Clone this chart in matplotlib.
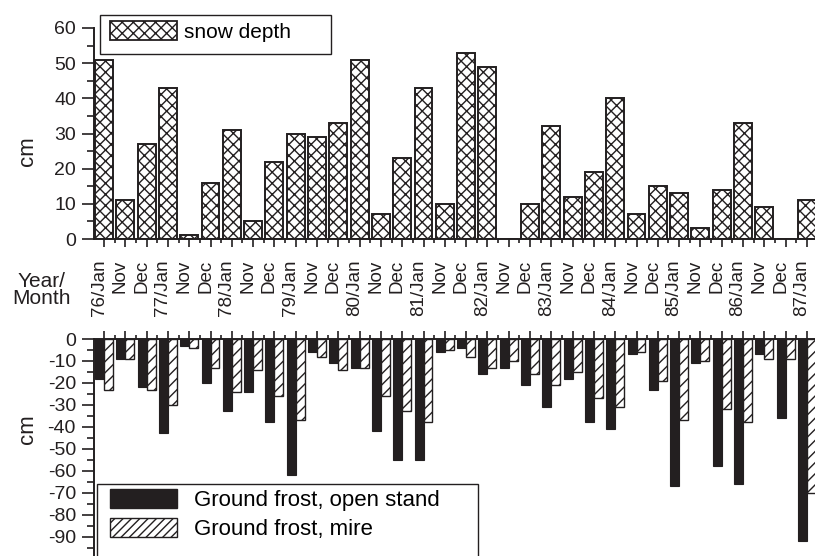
import matplotlib
matplotlib.use("Agg")
import matplotlib.pyplot as plt
import numpy as np
from matplotlib.patches import Patch, Rectangle
from matplotlib.transforms import ScaledTranslation
from matplotlib.ticker import FixedLocator

plt.rcParams['font.family'] = ['Liberation Sans', 'DejaVu Sans']
plt.rcParams['hatch.linewidth'] = 1.0
plt.rcParams['hatch.color'] = '#231f20'

categories = ['76/Jan', 'Nov', 'Dec', '77/Jan', 'Nov', 'Dec', '78/Jan', 'Nov', 'Dec',
              '79/Jan', 'Nov', 'Dec', '80/Jan', 'Nov', 'Dec', '81/Jan', 'Nov', 'Dec',
              '82/Jan', 'Nov', 'Dec', '83/Jan', 'Nov', 'Dec', '84/Jan', 'Nov', 'Dec',
              '85/Jan', 'Nov', 'Dec', '86/Jan', 'Nov', 'Dec', '87/Jan']
snow_depth = [51, 11, 27, 43, 1, 16, 31, 5, 22, 30, 29, 33, 51, 7, 23, 43, 10, 53, 49, 0,
              10, 32, 12, 19, 40, 7, 15, 13, 3, 14, 33, 9, 0, 11]
frost_open = [-18, -9, -22, -43, -3, -20, -33, -24, -38, -62, -6, -11, -13, -42, -55, -55,
              -6, -4, -16, -13, -21, -31, -18, -38, -41, -7, -23, -67, -11, -58, -66, -7,
              -36, -92]
frost_mire = [-23, -9, -23, -30, -4, -13, -24, -14, -26, -37, -8, -14, -13, -26, -33, -38,
              -5, -8, -13, -10, -16, -21, -15, -27, -31, -6, -19, -37, -10, -32, -38, -9,
              -9, -70]

INK = '#231f20'
W, H = 815, 556
fig = plt.figure(figsize=(W / 100, H / 100), dpi=100)

x = np.arange(len(categories))
xlim = (-0.47, 33.38)

def fx(px):
    return px / W

def fy(py):
    return 1 - py / H

# ---------- top panel ----------
ax1 = fig.add_axes([fx(94), fy(239), 1 - fx(94), (239 - 28) / H])
ax1.bar(x, snow_depth, width=0.84, facecolor='white', edgecolor=INK,
        linewidth=1.4, hatch='xxx')
ax1.set_xlim(*xlim)
ax1.set_ylim(0, 60)
ax1.set_yticks(np.arange(0, 61, 10))
ax1.yaxis.set_minor_locator(FixedLocator(np.arange(5, 60, 10)))
ax1.set_xticks(x)
ax1.set_xticklabels(categories, rotation=90, fontsize=13.5)
ax1.xaxis.set_minor_locator(FixedLocator(x[:-1] + 0.5))
for s in ['top', 'right']:
    ax1.spines[s].set_visible(False)
for s in ['left', 'bottom']:
    ax1.spines[s].set_linewidth(1.4)
    ax1.spines[s].set_color(INK)
ax1.tick_params(axis='y', which='major', length=9, width=1.2, pad=4, labelsize=14, colors=INK)
ax1.tick_params(axis='y', which='minor', length=5, width=1.2, colors=INK)
ax1.tick_params(axis='x', which='major', length=6, width=1.2, pad=9, colors=INK)
ax1.tick_params(axis='x', which='minor', length=3, width=1.2, colors=INK)
off = ScaledTranslation(-5 / 100, 0, fig.dpi_scale_trans)
for lab in ax1.get_xticklabels():
    lab.set_transform(lab.get_transform() + off)

# ---------- bottom panel ----------
ax2 = fig.add_axes([fx(94), 0, 1 - fx(94), (556 - 339) / H])
ax2.patch.set_alpha(0)
bw = 0.42
ax2.bar(x - bw / 2, frost_open, width=bw, facecolor=INK, edgecolor=INK, linewidth=0.8)
ax2.bar(x + bw / 2, frost_mire, width=bw, facecolor='white', edgecolor=INK,
        linewidth=1.0, hatch='///')
ax2.set_xlim(*xlim)
ax2.set_ylim(-98.8, 0)
ax2.set_yticks(np.arange(-90, 1, 10))
ax2.set_yticklabels([str(v) for v in np.arange(-90, 1, 10)])
ax2.yaxis.set_minor_locator(FixedLocator(np.arange(-95, 0, 10)))
ax2.xaxis.tick_top()
ax2.set_xticks(x)
ax2.set_xticklabels([])
ax2.xaxis.set_minor_locator(FixedLocator(x[:-1] + 0.5))
for s in ['bottom', 'right']:
    ax2.spines[s].set_visible(False)
for s in ['left', 'top']:
    ax2.spines[s].set_linewidth(1.4)
    ax2.spines[s].set_color(INK)
ax2.tick_params(axis='y', which='major', length=9, width=1.2, pad=4, labelsize=14, colors=INK)
ax2.tick_params(axis='y', which='minor', length=5, width=1.2, colors=INK)
ax2.tick_params(axis='x', which='major', length=6, width=1.2, colors=INK, top=True, bottom=False)
ax2.tick_params(axis='x', which='minor', length=3, width=1.2, colors=INK, top=True, bottom=False)

# ---------- text ----------
fig.text(fx(27), fy(151), 'cm', rotation=90, ha='center', va='center', fontsize=16, color=INK)
fig.text(fx(28), fy(429), 'cm', rotation=90, ha='center', va='center', fontsize=16, color=INK)
fig.text(fx(41), fy(290), 'Year/\nMonth', ha='center', va='center', fontsize=15,
         linespacing=0.92, color=INK)

# ---------- legends ----------
leg1 = fig.legend([Patch(facecolor='white', edgecolor=INK, hatch='xxx', linewidth=1.3)],
                  ['snow depth'], loc='upper left', bbox_to_anchor=(fx(110), fy(21)),
                  bbox_transform=fig.transFigure, frameon=False, fontsize=15,
                  borderpad=0, borderaxespad=0, handlelength=3.2, handleheight=1.05,
                  handletextpad=0.35)
fig.add_artist(Rectangle((fx(100), fy(54)), (331 - 100) / W, (54 - 15) / H,
                         transform=fig.transFigure, fill=False, edgecolor=INK, linewidth=1.0))

leg2 = fig.legend([Patch(facecolor=INK, edgecolor=INK),
                   Patch(facecolor='white', edgecolor=INK, hatch='////', linewidth=1.0)],
                  ['Ground frost, open stand', 'Ground frost, mire'],
                  loc='upper left', bbox_to_anchor=(fx(110), fy(489)),
                  bbox_transform=fig.transFigure, frameon=False, fontsize=16,
                  borderpad=0, borderaxespad=0, handlelength=3.0, handleheight=0.95,
                  handletextpad=0.8, labelspacing=0.3)
fig.add_artist(Rectangle((fx(97), fy(562)), (478 - 97) / W, (562 - 484) / H,
                         transform=fig.transFigure, fill=True, facecolor='white',
                         edgecolor=INK, linewidth=1.0, zorder=2))
leg2.set_zorder(3)

fig.savefig('out.png', dpi=100)
